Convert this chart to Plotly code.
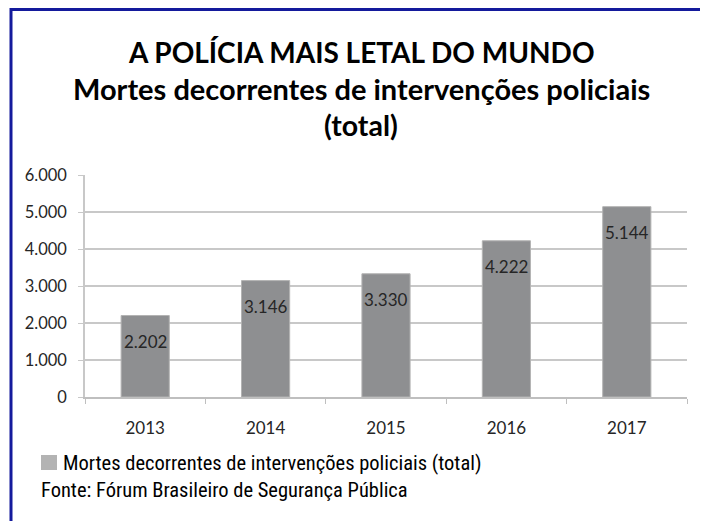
import plotly.graph_objects as go

years = ["2013", "2014", "2015", "2016", "2017"]
deaths = [2202, 3146, 3330, 4222, 5144]
labels = ["2.202", "3.146", "3.330", "4.222", "5.144"]
y_ticks = [0, 1000, 2000, 3000, 4000, 5000, 6000]
y_tick_text = ["0", "1.000", "2.000", "3.000", "4.000", "5.000", "6.000"]
title_lines = ["A POLÍCIA MAIS LETAL DO MUNDO",
               "Mortes decorrentes de intervenções policiais",
               "(total)"]
legend_text = "Mortes decorrentes de intervenções policiais (total)"
source_text = "Fonte: Fórum Brasileiro de Segurança Pública"

OFF = 8  # page body margin
W, H = 700, 513
L, R, T, B = 77, 21, 167, 124
PW, PH = W - L - R, H - T - B

def px(x):
    # page x -> paper x
    return (x - OFF - L) / PW

def py(y):
    # page y -> paper y
    return (H - B - (y - OFF)) / PH

fig = go.Figure()
fig.add_trace(go.Bar(
    x=years, y=deaths, width=0.4,
    marker=dict(color="#8e8f91", line=dict(color="#b3b3b3", width=1)),
    showlegend=False, hoverinfo="x+y",
))

annotations = []
for i, (v, lab) in enumerate(zip(deaths, labels)):
    annotations.append(dict(x=i, y=v, xref="x", yref="y", text=lab, showarrow=False,
                            yshift=-26, font=dict(family="Lato, sans-serif", size=17, color="#262626")))

title_y = [52, 89, 125]
title_sizes = [28, 29, 28.5]
for t, yy, s in zip(title_lines, title_y, title_sizes):
    annotations.append(dict(x=px(361), y=py(yy), xref="paper", yref="paper", text="<b>%s</b>" % t,
                            showarrow=False, xanchor="center", yanchor="middle",
                            font=dict(family="Lato, sans-serif", size=s, color="#000000")))

narrow = "Liberation Sans Narrow, Arial Narrow, Roboto Condensed, sans-serif"
annotations.append(dict(x=px(61), y=py(463), xref="paper", yref="paper", text=legend_text,
                        showarrow=False, xanchor="left", yanchor="middle",
                        font=dict(family=narrow, size=20.5, color="#000")))
annotations.append(dict(x=px(39), y=py(490), xref="paper", yref="paper", text=source_text,
                        showarrow=False, xanchor="left", yanchor="middle",
                        font=dict(family=narrow, size=20.5, color="#000")))

shapes = [
    dict(type="rect", xref="paper", yref="paper", x0=px(41), x1=px(57), y0=py(455), y1=py(470),
         fillcolor="#b3b3b3", line=dict(width=0)),
    dict(type="path", xref="paper", yref="paper",
         path="M %f %f L %f %f L %f %f L %f %f" % (px(11), py(530), px(11), py(9.5), px(705), py(9.5), px(705), py(530)),
         line=dict(color="#141a9c", width=3)),
]

fig.update_layout(
    width=W, height=H,
    margin=dict(l=L, r=R, t=T, b=B),
    paper_bgcolor="white", plot_bgcolor="white",
    annotations=annotations, shapes=shapes,
    xaxis=dict(type="category", range=[-0.5, len(years) - 0.5], tickson="boundaries",
               ticks="outside", ticklen=5, ticklabelstandoff=15,
               tickcolor="#bfbfbf", showline=True, linecolor="#bfbfbf", linewidth=1.5,
               showgrid=False, tickangle=0,
               tickfont=dict(family="Lato, sans-serif", size=17, color="#262626")),
    yaxis=dict(range=[0, 6000], tickvals=y_ticks, ticktext=y_tick_text, ticks="outside", ticklen=5,
               ticklabelstandoff=8,
               tickcolor="#c8c8c8", showline=True, linecolor="#c8c8c8", linewidth=1.5,
               gridcolor="#c8c8c8", gridwidth=1.5, zeroline=False,
               tickfont=dict(family="Lato, sans-serif", size=16.5, color="#262626")),
)

fig.write_html("out.html")
